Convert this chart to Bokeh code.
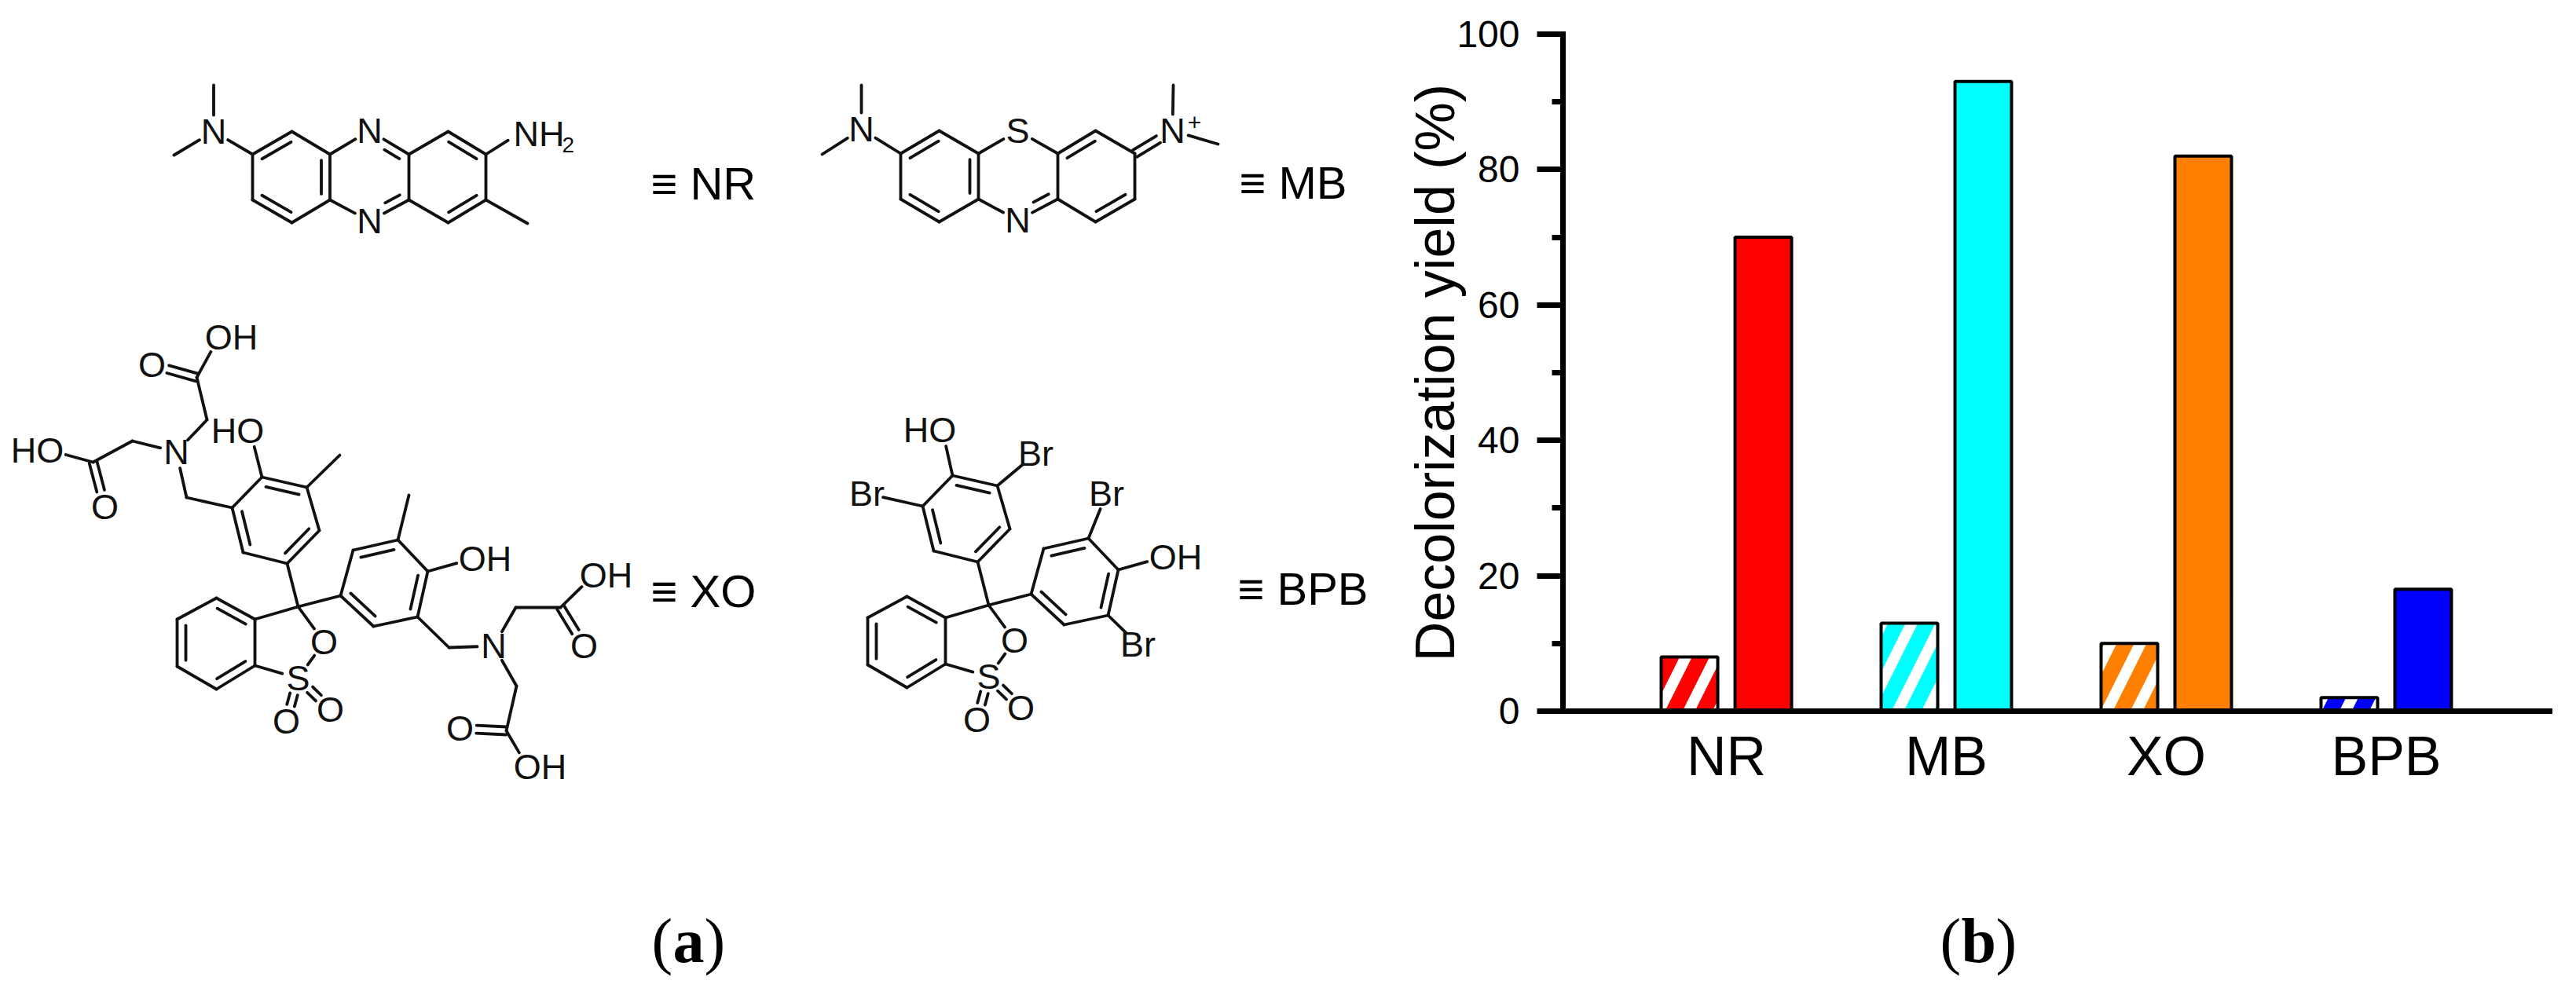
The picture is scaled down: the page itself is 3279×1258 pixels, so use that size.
import math
from bokeh.plotting import figure
from bokeh.layouts import row, column
from bokeh.models import (ColumnDataSource, FactorRange, Range1d, SingleIntervalTicker)
from bokeh.transform import dodge
from bokeh.core.properties import value
from bokeh.embed import file_html
from bokeh.resources import INLINE

# ---------- chart data ----------
categories = ["NR", "MB", "XO", "BPB"]
yield_first = [8, 13, 10, 2]
yield_second = [70, 93, 82, 18]
bar_colors = ["#FF0000", "#00FFFF", "#FF8000", "#0000FF"]
y_title = "Decolorization yield (%)"

SANS = "Liberation Sans"
SERIF = "Liberation Serif"
INK = "#111111"

# ---------- structural formulae (panel a), drawn in page pixels ----------
segs = {"x0": [], "y0": [], "x1": [], "y1": []}
labels = {"x": [], "y": [], "text": []}


def add_line(a, b):
    segs["x0"].append(a[0]); segs["y0"].append(a[1])
    segs["x1"].append(b[0]); segs["y1"].append(b[1])


def build(atoms, bonds, doubles, sym_doubles, text, trim=21):
    """atoms: name->(x,y); text: name->(label, dx) marks a labelled atom."""
    def ends(a, b):
        p, q = atoms[a], atoms[b]
        L = math.hypot(q[0]-p[0], q[1]-p[1])
        ux, uy = (q[0]-p[0])/L, (q[1]-p[1])/L
        ta = trim if a in text else 0
        tb = trim if b in text else 0
        return (p[0]+ux*ta, p[1]+uy*ta), (q[0]-ux*tb, q[1]-uy*tb), ux, uy, L
    for a, b in bonds:
        p, q, *_ = ends(a, b)
        add_line(p, q)
    for a, b, c in doubles:
        p, q, ux, uy, L = ends(a, b)
        add_line(p, q)
        nx, ny = -uy, ux
        cx, cy = c
        mx, my = (p[0]+q[0])/2, (p[1]+q[1])/2
        s = 1 if (cx-mx)*nx+(cy-my)*ny > 0 else -1
        off = 11
        sh = 0.13*L
        add_line((p[0]+ux*sh+s*nx*off, p[1]+uy*sh+s*ny*off),
                 (q[0]-ux*sh+s*nx*off, q[1]-uy*sh+s*ny*off))
    for a, b in sym_doubles:
        p, q, ux, uy, L = ends(a, b)
        nx, ny = -uy, ux
        add_line((p[0]+nx*5, p[1]+ny*5), (q[0]+nx*5, q[1]+ny*5))
        add_line((p[0]-nx*5, p[1]-ny*5), (q[0]-nx*5, q[1]-ny*5))
    for k, (t, dx) in text.items():
        labels["x"].append(atoms[k][0]+dx)
        labels["y"].append(atoms[k][1])
        labels["text"].append(t)


# --- NR
a = dict(c1=(321,196), c2=(371,167), c3=(419.5,196), c4=(419.5,254), c5=(371,283), c6=(321,254),
         n7=(470,166), n8=(470,281), c9=(520,196), c10=(520,254), c11=(570,167), c12=(618,196),
         c13=(618,254), c14=(570,283), nm=(271.5,167), m1=(271.5,108), m2=(221,197),
         nh=(664,167), m3=(671,284))
L_c = (370,225); M_c = (470,225); R_c = (570,225)
build(a,
      [("c2","c3"),("c4","c5"),("c6","c1"),("c3","n7"),("c4","n8"),("c9","c11"),("c12","c13"),
       ("c14","c10"),("c9","c10"),("nm","m1"),("nm","m2"),("nm","c1"),("c12","nh"),("c13","m3")],
      [("c1","c2",L_c),("c3","c4",L_c),("c5","c6",L_c),("n7","c9",M_c),("n8","c10",M_c),
       ("c11","c12",R_c),("c13","c14",R_c)],
      [],
      dict(nm=("N",0), n7=("N",0), n8=("N",0), nh=("",0)))
sub_x = [715]; sub_y = [184]; sub_t = ["2"]
top_x = [1520]; top_y = [155]; top_t = ["+"]
nh_x = [653]; nh_y = [170]; nh_t = ["NH"]

# --- MB
a = dict(c1=(1146,195), c2=(1195,166), c3=(1245,195), c4=(1245,253), c5=(1195,282), c6=(1146,253),
         s=(1295,166), n=(1295,280), c9=(1346,195), c10=(1346,253), c11=(1394,166), c12=(1444,195),
         c13=(1444,253), c14=(1394,282), nm=(1096,164), m1=(1096,108), m2=(1046,196),
         np=(1492,166), m3=(1493,108), m4=(1550,183))
L_c = (1195,224); M_c = (1295,224); R_c = (1394,224)
build(a,
      [("c2","c3"),("c4","c5"),("c6","c1"),("c3","s"),("s","c9"),("c4","n"),("c11","c12"),
       ("c12","c13"),("c14","c10"),("c9","c10"),("nm","m1"),("nm","m2"),("nm","c1"),("np","m3"),("np","m4")],
      [("c1","c2",L_c),("c3","c4",L_c),("c5","c6",L_c),("n","c10",M_c),("c9","c11",R_c),("c13","c14",R_c)],
      [("c12","np")],
      dict(nm=("N",0), s=("S",0), n=("N",0), np=("N",0)))

# --- XO / BPB shared core
def core(dx, dy):
    pts = dict(l1=(295,646), l2=(333,607), l3=(390,620), l4=(406,675), l5=(365,717), l6=(309,703),
               r1=(433,758), r2=(449,700), r3=(506,687), r4=(544,727), r5=(531,785), r6=(475,797),
               b1=(225,788), b2=(275,761), b3=(324,788), b4=(324,847), b5=(275,877), b6=(225,848),
               ce=(379,772), o=(412,817), s=(379,863), so1=(364,918), so2=(420,903),
               oh2=(601,711))
    return {k: (v[0]+dx, v[1]+dy) for k, v in pts.items()}


def core_bonds(dx, dy):
    Lc = (350+dx, 662+dy); Rc = (490+dx, 742+dy); Bc = (275+dx, 818+dy)
    return ([("l2","l1"),("l3","l4"),("l5","l6"),("r1","r2"),("r3","r4"),("r5","r6"),
             ("b1","b2"),("b3","b4"),("b5","b6"),("l5","ce"),("ce","r1"),("ce","b3"),("ce","o"),
             ("o","s"),("b4","s"),("r4","oh2")],
            [("l2","l3",Lc),("l1","l6",Lc),("l4","l5",Lc),("r2","r3",Rc),("r4","r5",Rc),("r6","r1",Rc),
             ("b2","b3",Bc),("b1","b6",Bc),("b4","b5",Bc)],
            [("s","so1"),("s","so2")])

# XO
a = core(0, 0)
a.update(oh1=(278,429), o1=(193,464), c1=(250,480), ch1=(263,534), n1=(224,575), ch2=(168,561),
         c2=(118,588), oh3=(63,573), o2=(133,645), ch3=(237,633), oh4=(318,548), me1=(432,579),
         me2=(520,630), n2=(628,822), ch4=(571,824), ch5=(656,773), c3=(713,773), oh5=(755,732),
         o3=(743,822), ch6=(657,873), c4=(644,930), o4=(585,927), oh6=(671,976))
b, d, sd = core_bonds(0, 0)
b += [("c1","oh1"),("c1","ch1"),("ch1","n1"),("n1","ch2"),("ch2","c2"),("c2","oh3"),("n1","ch3"),
      ("ch3","l1"),("l2","oh4"),("l3","me1"),("r3","me2"),("r5","ch4"),("ch4","n2"),("n2","ch5"),
      ("ch5","c3"),("c3","oh5"),("n2","ch6"),("ch6","c4"),("c4","oh6")]
sd += [("c1","o1"),("c2","o2"),("c3","o3"),("c4","o4")]
build(a, b, d, sd,
      dict(oh1=("OH",16), o1=("O",0), n1=("N",0), oh3=("HO",-16), o2=("O",0), oh4=("HO",-16),
           o=("O",0), s=("S",0), so1=("O",0), so2=("O",0), oh2=("OH",16), n2=("N",0), oh5=("OH",16),
           o3=("O",0), o4=("O",0), oh6=("OH",16)))

# BPB
a = core(879, -2)
a.update(oh4=(1199,547), br1=(1318,577), br2=(1103,628), br3=(1408,628), br4=(1448,820))
b, d, sd = core_bonds(879, -2)
b += [("l2","oh4"),("l3","br1"),("l1","br2"),("r3","br3"),("r5","br4")]
build(a, b, d, sd,
      dict(oh4=("HO",-16), br1=("Br",0), br2=("Br",0), br3=("Br",0), br4=("Br",0),
           o=("O",0), s=("S",0), so1=("O",0), so2=("O",0), oh2=("OH",16)))

# equivalence labels
eq_x = [828, 1577, 828, 1575]
eq_y = [233, 232, 752, 749]
eq_t = ["\u2261 NR", "\u2261 MB", "\u2261 XO", "\u2261 BPB"]

# ---------- left panel ----------
left = figure(width=1772, height=1242, x_range=Range1d(8, 1780), y_range=Range1d(1250, 8),
              x_axis_type=None, y_axis_type=None, toolbar_location=None, output_backend="svg",
              min_border=0, outline_line_color=None)
left.grid.visible = False
left.segment("x0", "y0", "x1", "y1", source=ColumnDataSource(segs), line_color=INK, line_width=3.8,
             line_cap="round")


def txt(p, xs, ys, ts, size, font=SANS, style="normal", align="center", color=INK):
    p.text(xs, ys, text=ts, text_font=value(font), text_font_size=value(size), text_font_style=style,
           text_align=align, text_baseline="middle", text_color=color)


txt(left, labels["x"], labels["y"], labels["text"], "45px")
txt(left, nh_x, nh_y, nh_t, "45px", align="left")
txt(left, sub_x, sub_y, sub_t, "28px", align="left")
txt(left, top_x, top_y, top_t, "30px")
txt(left, eq_x, eq_y, eq_t, "58px", align="left", color="#000000")
txt(left, [829], [1197], ["("], "80px", font=SERIF, align="left", color="#000000")
txt(left, [856], [1197], ["a"], "80px", font=SERIF, style="bold", align="left", color="#000000")
txt(left, [896], [1197], [")"], "80px", font=SERIF, align="left", color="#000000")

# ---------- right panel ----------
hatch_w = 72/280
offset = 47/280
right = figure(width=1491, height=1100, x_range=FactorRange(factors=categories, range_padding=0.1215),
               y_range=Range1d(0, 100), toolbar_location=None, output_backend="svg",
               min_border_left=209, min_border_right=26, min_border_top=35, min_border_bottom=203,
               outline_line_color=None)
right.grid.visible = False
src = ColumnDataSource(dict(cat=categories, first=yield_first, second=yield_second, color=bar_colors))
right.vbar(x=dodge("cat", -offset, range=right.x_range), top="first", bottom=0, width=hatch_w, source=src,
           fill_color="color", line_color="#000000", line_width=4,
           hatch_pattern="right_diagonal_line", hatch_color="#FFFFFF", hatch_weight=14, hatch_scale=76)
right.vbar(x=dodge("cat", offset, range=right.x_range), top="second", bottom=0, width=hatch_w, source=src,
           fill_color="color", line_color="#000000", line_width=4)

ax = right.yaxis[0]
ax.ticker = SingleIntervalTicker(interval=20, num_minor_ticks=2)
ax.axis_label = y_title
ax.axis_label_text_font = SANS
ax.axis_label_text_font_size = "70px"
ax.axis_label_text_font_style = "normal"
ax.axis_label_text_color = "#000000"
ax.axis_label_standoff = -15
ax.major_label_text_font = SANS
ax.major_label_text_font_size = "48px"
ax.major_label_text_color = "#000000"
ax.major_label_standoff = 22
ax.major_tick_in = 0
ax.major_tick_out = 33
ax.minor_tick_in = 0
ax.minor_tick_out = 14
ax.major_tick_line_width = 7
ax.minor_tick_line_width = 7
ax.major_tick_line_color = "#000000"
ax.minor_tick_line_color = "#000000"
ax.axis_line_width = 7
ax.axis_line_color = "#000000"
ax.axis_line_cap = "square"

bx = right.xaxis[0]
bx.major_tick_line_color = None
bx.minor_tick_line_color = None
bx.axis_line_width = 7
bx.axis_line_color = "#000000"
bx.axis_line_cap = "square"
bx.major_label_text_font = SANS
bx.major_label_text_font_size = "70px"
bx.major_label_text_color = "#000000"
bx.major_label_standoff = 12

# ---------- caption strip under the chart ----------
caption = figure(width=1491, height=142, x_range=Range1d(1989, 3245), y_range=Range1d(1250, 1108),
                 x_axis_type=None, y_axis_type=None, toolbar_location=None, output_backend="svg",
                 min_border_left=209, min_border_right=26, min_border_top=0, min_border_bottom=0,
                 outline_line_color=None)
caption.grid.visible = False
txt(caption, [2469], [1197], ["("], "80px", font=SERIF, align="left", color="#000000")
txt(caption, [2496], [1197], ["b"], "80px", font=SERIF, style="bold", align="left", color="#000000")
txt(caption, [2540], [1197], [")"], "80px", font=SERIF, align="left", color="#000000")

layout = row(column(left), column(right, caption, spacing=0), spacing=0, margin=(8, 0, 0, 8))
open("out.html", "w").write(file_html(layout, INLINE))
